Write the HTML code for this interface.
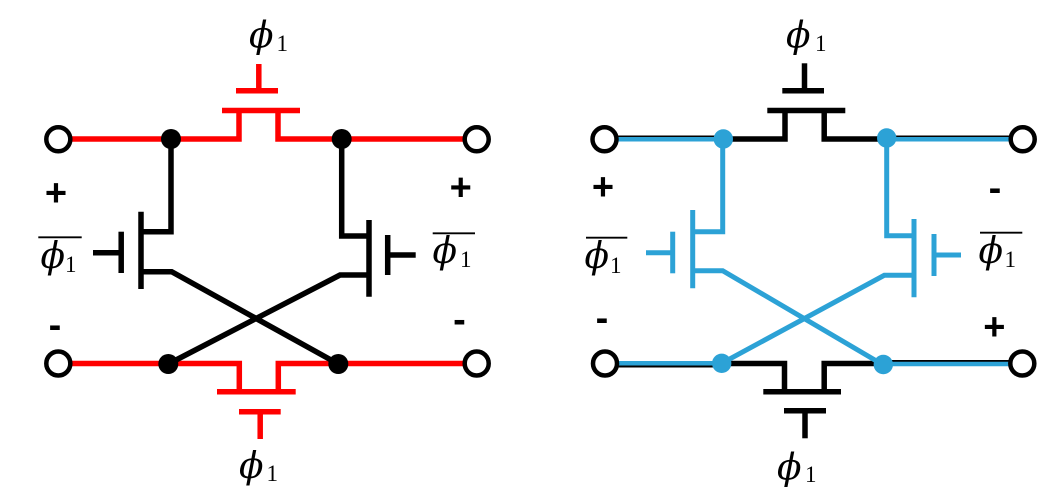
<!DOCTYPE html>
<html>
<head>
<meta charset="utf-8">
<style>
  html, body { margin:0; padding:0; background:#fff; }
  svg { display:block; }
  .phi { font-family: "DejaVu Serif", "Liberation Serif", serif; font-style: italic; font-size: 36px; fill:#000; }
  .sub { font-family: "Liberation Serif", "DejaVu Serif", serif; font-size: 23px; fill:#000; }
  .sign { font-family: "Liberation Sans", "DejaVu Sans", sans-serif; font-weight: bold; font-size: 38px; fill:#000; }
</style>
</head>
<body>
<svg width="1061" height="504" viewBox="0 0 1061 504" xmlns="http://www.w3.org/2000/svg">
  <g fill="none" stroke-linecap="butt" stroke-linejoin="miter">
    <!-- ============ LEFT CIRCUIT ============ -->
    <g stroke="#FF0000" stroke-width="5.5">
      <path d="M58 139 H239 V110.5"/>
      <path d="M222 110.5 H300"/>
      <path d="M278 110.5 V139 H477"/>
      <path d="M236 90.8 H278"/>
      <path d="M258.8 64 V90.8"/>
      <path d="M58 363.5 H239.3 V391.8"/>
      <path d="M217 391.8 H295.7"/>
      <path d="M278.3 391.8 V363.5 H477"/>
      <path d="M239 411.8 H280.7"/>
      <path d="M260.2 411.8 V439"/>
    </g>
    <g stroke="#000" stroke-width="5.5">
      <path d="M171 139 V231.7 H141"/>
      <path d="M141 211.7 V289"/>
      <path d="M141 271.7 H171.7 L338.3 364"/>
      <path d="M121.2 231.7 V273"/>
      <path d="M93 252.7 H121"/>
      <path d="M341.7 139 V236 H369"/>
      <path d="M369 220 V296.7"/>
      <path d="M369 275 H340 L168.3 364"/>
      <path d="M387.7 235 V275"/>
      <path d="M387.7 255 H415.7"/>
    </g>
    <g fill="#000" stroke="none">
      <circle cx="171" cy="139" r="10"/>
      <circle cx="341.7" cy="139" r="10"/>
      <circle cx="168.3" cy="364" r="10"/>
      <circle cx="338.3" cy="364" r="10"/>
    </g>
    <g fill="#fff" stroke="#000" stroke-width="4.5">
      <circle cx="58.3" cy="139.3" r="12"/>
      <circle cx="476.7" cy="139.3" r="12"/>
      <circle cx="58.3" cy="363.5" r="12"/>
      <circle cx="476.7" cy="363.5" r="12"/>
    </g>
    <g stroke="#000" stroke-width="1.8">
      <path d="M38.3 237.3 H81.7"/>
      <path d="M432.7 233.3 H475"/>
    </g>

    <!-- ============ RIGHT CIRCUIT ============ -->
    <g stroke="#000" stroke-width="5">
      <path d="M604.5 138 H723.3"/>
      <path d="M886.7 138 H1022.7"/>
      <path d="M604.5 365 H721.7"/>
      <path d="M883.3 362.5 H1022.3"/>
    </g>
    <g stroke="#000" stroke-width="5.5">
      <path d="M723.3 139 H785 V110.5"/>
      <path d="M767.3 110.5 H845.3"/>
      <path d="M824.2 110.5 V139 H886.7"/>
      <path d="M782.3 90.8 H824"/>
      <path d="M804.5 63.3 V90.8"/>
      <path d="M721.7 363.5 H784.5 V391.8"/>
      <path d="M763.3 391.8 H841"/>
      <path d="M824.2 391.8 V363.5 H883.3"/>
      <path d="M784 410.8 H826"/>
      <path d="M805 410.8 V438.3"/>
    </g>
    <g stroke="#2CA2D6" stroke-width="4.5">
      <path d="M604.5 139.2 H723.3"/>
      <path d="M886.7 139.2 H1022.7"/>
      <path d="M604.5 363.3 H721.7"/>
      <path d="M883.3 364 H1022.3"/>
    </g>
    <g stroke="#2CA2D6" stroke-width="5">
      <path d="M722.7 139 V231.7 H692.7"/>
      <path d="M692.7 210 V288.3"/>
      <path d="M692.7 270.7 H722.7 L883.3 365"/>
      <path d="M672.7 231.7 V273.3"/>
      <path d="M646 252.7 H672.7"/>
      <path d="M886.7 139 V235.7 H914"/>
      <path d="M914 219 V297.3"/>
      <path d="M914 275.3 H884.3 L721.7 363.3"/>
      <path d="M934 234 V276"/>
      <path d="M934 255 H961"/>
    </g>
    <g fill="#2CA2D6" stroke="none">
      <circle cx="723.3" cy="139" r="9.7"/>
      <circle cx="886.7" cy="138" r="9.7"/>
      <circle cx="721.7" cy="363.3" r="9.7"/>
      <circle cx="883.3" cy="364.5" r="9.7"/>
    </g>
    <g fill="#fff" stroke="#000" stroke-width="4.5">
      <circle cx="604.5" cy="139.3" r="12"/>
      <circle cx="1022.7" cy="139.3" r="12"/>
      <circle cx="605" cy="363.5" r="12"/>
      <circle cx="1022.3" cy="363.5" r="12"/>
    </g>
    <g stroke="#000" stroke-width="1.8">
      <path d="M586 237.7 H627.3"/>
      <path d="M980 232.7 H1022.3"/>
    </g>
  </g>

  <!-- ============ LABELS ============ -->
  <text class="phi" x="249" y="47.5">ϕ</text><text class="sub" x="276.5" y="51">1</text>
  <text class="phi" x="239" y="478">ϕ</text><text class="sub" x="266.5" y="481">1</text>
  <text class="phi" x="40.5" y="268">ϕ</text><text class="sub" x="65" y="272">1</text>
  <text class="phi" x="432.5" y="263">ϕ</text><text class="sub" x="460" y="267">1</text>

  <text class="sign" x="56" y="205.3" text-anchor="middle">+</text>
  <text class="sign" x="55" y="337.3" text-anchor="middle">-</text>
  <text class="sign" x="460.7" y="200" text-anchor="middle">+</text>
  <text class="sign" x="459.5" y="332" text-anchor="middle">-</text>

  <text class="phi" x="786" y="47.5">ϕ</text><text class="sub" x="815" y="51">1</text>
  <text class="phi" x="777" y="479.5">ϕ</text><text class="sub" x="805" y="482">1</text>
  <text class="phi" x="584.5" y="268">ϕ</text><text class="sub" x="610" y="273">1</text>
  <text class="phi" x="978.5" y="263">ϕ</text><text class="sub" x="1004.5" y="267">1</text>

  <text class="sign" x="603" y="199.3" text-anchor="middle">+</text>
  <text class="sign" x="602" y="330.3" text-anchor="middle">-</text>
  <text class="sign" x="995" y="200.3" text-anchor="middle">-</text>
  <text class="sign" x="994.3" y="339.3" text-anchor="middle">+</text>
</svg>
</body>
</html>
